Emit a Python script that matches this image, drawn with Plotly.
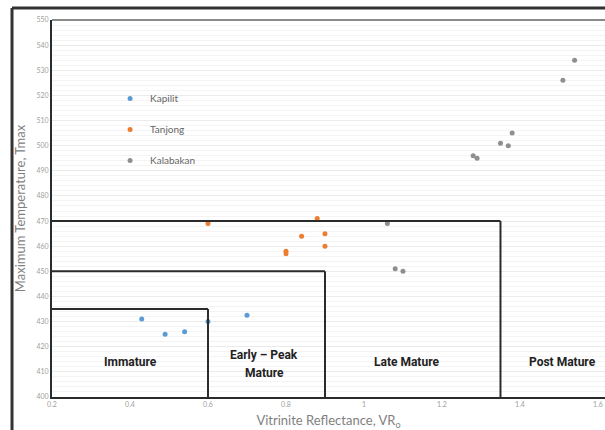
import plotly.graph_objects as go

# ---- data ----
kapilit_x = [0.43, 0.49, 0.54, 0.60, 0.70]
kapilit_y = [431, 425, 426, 430, 432.5]

tanjong_x = [0.60, 0.88, 0.84, 0.90, 0.90, 0.80, 0.80]
tanjong_y = [469, 471, 464, 465, 460, 458, 457]

kalabakan_x = [1.06, 1.08, 1.10, 1.54, 1.51, 1.38, 1.35, 1.37, 1.28, 1.29]
kalabakan_y = [469, 451, 450, 534, 526, 505, 501, 500, 496, 495]

# maturity zone limits: (VRo upper limit, Tmax upper limit)
zone_vro = [0.6, 0.9, 1.35]
zone_tmax = [435, 450, 470]
zone_names = ["Immature", "Early – Peak", "Mature", "Late Mature", "Post Mature"]
zone_label_x = [0.40, 0.743, 0.745, 1.108, 1.509]
zone_label_y = [414, 416.7, 409.6, 414, 414]

x_ticks = [0.2, 0.4, 0.6, 0.8, 1.0, 1.2, 1.4, 1.6]
x_tick_text = ["0.2", "0.4", "0.6", "0.8", "1", "1.2", "1.4", "1.6"]
y_ticks = list(range(400, 551, 10))

fig = go.Figure()
series = [
    ("Kapilit", kapilit_x, kapilit_y, "#5b9bd5"),
    ("Tanjong", tanjong_x, tanjong_y, "#ed7d31"),
    ("Kalabakan", kalabakan_x, kalabakan_y, "#8f8f8f"),
]
for name, xs, ys, col in series:
    fig.add_trace(go.Scatter(
        x=xs, y=ys, mode="markers", name=name, legendgroup=name,
        marker=dict(color=col, size=5),
    ))

shapes = []
for vx, ty in zip(zone_vro, zone_tmax):
    shapes.append(dict(type="line", xref="x", yref="y", x0=0.2, x1=vx, y0=ty, y1=ty,
                       line=dict(color="#2b2b2b", width=2)))
    shapes.append(dict(type="line", xref="x", yref="y", x0=vx, x1=vx, y0=400, y1=ty,
                       line=dict(color="#2b2b2b", width=2)))
# top plot border (grey)
shapes.append(dict(type="line", xref="paper", yref="paper", x0=0, x1=1, y0=1, y1=1,
                   line=dict(color="#8a8a8a", width=2)))
# outer picture frame
shapes.append(dict(type="line", xref="paper", yref="paper", x0=-0.0723, x1=1.02,
                   y0=1.0318, y1=1.0318, line=dict(color="#333333", width=3)))
shapes.append(dict(type="line", xref="paper", yref="paper", x0=-0.0723, x1=-0.0723,
                   y0=-0.2, y1=1.0318, line=dict(color="#333333", width=3)))

annotations = []
for t, ax, ay in zip(zone_names, zone_label_x, zone_label_y):
    annotations.append(dict(x=ax, y=ay, xref="x", yref="y", text="<b>" + t + "</b>",
                            showarrow=False,
                            font=dict(family="Roboto, Liberation Sans, sans-serif",
                                      size=12, color="#222222")))

fig.update_layout(
    width=605, height=430,
    margin=dict(l=52, r=0, t=20, b=33),
    paper_bgcolor="white", plot_bgcolor="white",
    font=dict(family="Lato, Open Sans, sans-serif", color="#7f7f7f"),
    showlegend=True,
    legend=dict(x=0.105, y=0.83, xanchor="left", yanchor="top",
                bgcolor="rgba(0,0,0,0)", tracegroupgap=12,
                font=dict(size=10, color="#666666")),
    shapes=shapes, annotations=annotations,
    xaxis=dict(range=[0.2, 1.618], tickvals=x_ticks, ticktext=x_tick_text,
               showgrid=False, zeroline=False, showline=True, linecolor="#2b2b2b",
               linewidth=2, ticks="", tickfont=dict(size=7, color="#a0a0a0"),
               title=dict(text="Vitrinite Reflectance, VR<sub>o</sub>",
                          font=dict(size=13, color="#7f7f7f"), standoff=9)),
    yaxis=dict(range=[400, 550], tickvals=y_ticks,
               showgrid=True, gridcolor="#ebebeb", gridwidth=1,
               minor=dict(dtick=2, showgrid=True, gridcolor="#f4f4f4"),
               zeroline=False, showline=True, linecolor="#2b2b2b", linewidth=2,
               ticks="", tickfont=dict(size=7, color="#a0a0a0"),
               title=dict(text="Maximum Temperature, Tmax",
                          font=dict(size=13, color="#7f7f7f"), standoff=8)),
)

fig.write_html(
    "out.html",
    config={"displayModeBar": False},
    post_script="document.body.style.margin='0';document.body.style.overflow='hidden';",
)
